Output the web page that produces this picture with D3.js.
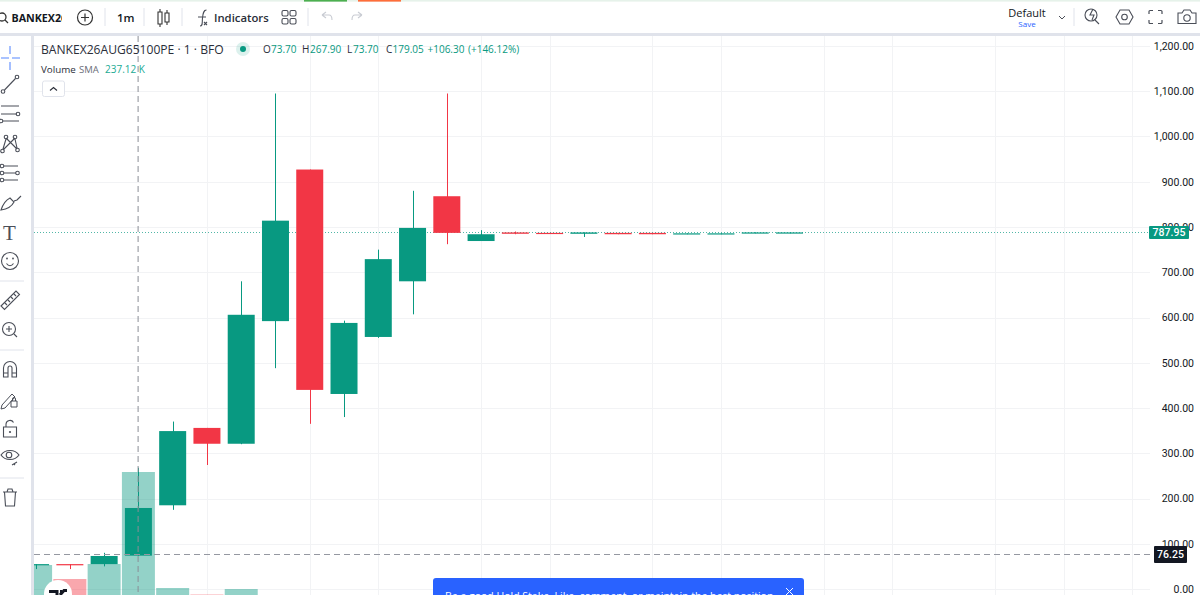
<!DOCTYPE html>
<html><head><meta charset="utf-8">
<script src="https://cdn.jsdelivr.net/npm/d3@7/dist/d3.min.js"></script>
<style>
html,body{margin:0;padding:0;background:#fff;overflow:hidden}
svg{display:block}
text{font-family:"Open Sans","Noto Sans",sans-serif}
</style></head><body>
<svg id="c" width="1200" height="595"></svg>
<script>
// ---- data ----
const title = "BANKEX26AUG65100PE · 1 · BFO";
const opens  = [54,55,55,73.7,185,356,321,592,927,431,557,680,868,769,788,787,785,787,787,784,784,786,786];
const highs  = [55,55,80,267.9,370,356,680,1095,927,593,750,880,1095,793,790,787,788,787,787,786,786,788,788];
const lows   = [44,44,50,73.7,175,274,320,488,365,380,555,607,762,769,784,785,778,784,784,784,784,786,786];
const closes = [55,54,73,179.05,349,321,606,814,440,588,729,798,787,784,785,785,788,784,784,786,786,788,788];
const volumes = [75,61,76,168,52,45.5,51,30,30,30,30,30,30,30,30,30,30,30,30,30,30,30,30];
const priceTicks = [0,100,200,300,400,500,600,700,800,900,1000,1100,1200];
const gridIndex = [5,8,10,13,15,18,20,23,25,28,30,32];
const lastPrice = 787.95, crossPrice = 76.25, crossIndex = 3;
const legendVals = [["O","73.70"],["H","267.90"],["L","73.70"],["C","179.05"]];

const UP="#089981", DOWN="#f23645", INK="#131722", ICON="#4a4e58", RULE="#e0e3eb", GRID="#f2f3f5";
const svg=d3.select("#c");
const x=d3.scaleLinear().domain([0,22]).range([35.6,789.5]);
const y=d3.scaleLinear().domain([0,1200]).range([589,46]);
const yv=d3.scaleLinear().domain([0,168]).range([640,472]);
const bw=27, vw=33;

const defs=svg.append("defs");
defs.append("clipPath").attr("id","plot").append("rect").attr("x",34).attr("y",36).attr("width",1116).attr("height",559);
const plot=svg.append("g").attr("clip-path","url(#plot)");

// grid
plot.append("g").selectAll("line").data(priceTicks).join("line")
 .attr("x1",34).attr("x2",1150).attr("y1",d=>Math.round(y(d))+.5).attr("y2",d=>Math.round(y(d))+.5).attr("stroke",GRID);
plot.append("g").selectAll("line").data(gridIndex).join("line")
 .attr("x1",d=>Math.round(x(d))+.5).attr("x2",d=>Math.round(x(d))+.5).attr("y1",36).attr("y2",595).attr("stroke",GRID);

// volume
plot.append("g").selectAll("rect").data(volumes).join("rect")
 .attr("x",(d,i)=>x(i)-vw/2).attr("width",vw)
 .attr("y",d=>yv(d)).attr("height",d=>Math.max(0,yv(0)-yv(d)))
 .attr("fill",(d,i)=>closes[i]>=opens[i]?UP:DOWN).attr("opacity",.44);

// last price line
plot.append("line").attr("x1",34).attr("x2",1150).attr("y1",Math.floor(y(lastPrice))+.5).attr("y2",Math.floor(y(lastPrice))+.5)
 .attr("stroke",UP).attr("stroke-opacity",.7).attr("stroke-dasharray","1 2");

// candles
const n=d3.range(opens.length);
const g=plot.append("g");
g.selectAll("line").data(n).join("line")
 .attr("x1",i=>Math.round(x(i))+.5).attr("x2",i=>Math.round(x(i))+.5)
 .attr("y1",i=>y(highs[i])).attr("y2",i=>y(lows[i]))
 .attr("stroke",i=>closes[i]>=opens[i]?UP:DOWN).attr("stroke-width",1);
g.selectAll("rect").data(n).join("rect")
 .attr("x",i=>x(i)-bw/2).attr("width",bw)
 .attr("y",i=>y(Math.max(opens[i],closes[i])))
 .attr("height",i=>Math.max(1.2,Math.abs(y(opens[i])-y(closes[i]))))
 .attr("fill",i=>closes[i]>=opens[i]?UP:DOWN);

// crosshair
plot.append("line").attr("x1",x(crossIndex)-.3).attr("x2",x(crossIndex)-.3).attr("y1",36).attr("y2",595)
 .attr("stroke","#8a8d96").attr("stroke-dasharray","6 4");
plot.append("line").attr("x1",34).attr("x2",1150).attr("y1",Math.floor(y(crossPrice))+.5).attr("y2",Math.floor(y(crossPrice))+.5)
 .attr("stroke","#9598a1").attr("stroke-dasharray","6 4");

// price axis
const ax=svg.append("g").attr("transform","translate(1150,0)")
 .call(d3.axisRight(y).tickValues(priceTicks).tickSize(0).tickPadding(0).tickFormat(d3.format(",.2f")));
ax.select(".domain").remove();
ax.selectAll("text").attr("x",44).attr("text-anchor","end").attr("font-size",10.5).attr("fill",INK)
 .style("font-family","Roboto");

function tag(v,fill,w,x0,h){
 const yy=y(v);
 svg.append("rect").attr("x",x0).attr("y",yy-h/2).attr("width",w).attr("height",h).attr("rx",1).attr("fill",fill);
 svg.append("text").attr("x",x0+w/2).attr("y",yy+3.7).attr("text-anchor","middle").attr("font-size",10.5).attr("fill","#fff").style("font-family","Roboto").attr("font-weight",500).text(d3.format(".2f")(v));
}
tag(lastPrice,UP,40,1149,13);
tag(crossPrice,INK,33,1154,17);

// chrome: top bar and left bar
svg.append("rect").attr("width",1200).attr("height",33).attr("fill","#fff");
svg.append("rect").attr("width",1200).attr("height",1.6).attr("fill","#e6f2ea");
svg.append("rect").attr("x",304).attr("width",43).attr("height",1.6).attr("fill","#4caf50");
svg.append("rect").attr("x",358).attr("width",43).attr("height",1.6).attr("fill","#ff6d3a");
svg.append("rect").attr("y",33).attr("width",1200).attr("height",3).attr("fill",RULE);
svg.append("rect").attr("y",36).attr("width",31).attr("height",559).attr("fill","#fff");
svg.append("rect").attr("x",31).attr("y",36).attr("width",3).attr("height",559).attr("fill",RULE);

const T=(s,xx,yy,size,fill,opt={})=>svg.append("text").attr("x",xx).attr("y",yy).attr("font-size",size).attr("fill",fill)
 .attr("font-weight",opt.w||400).attr("text-anchor",opt.a||"start").text(s);
const P=(d,xx=0,yy=0,col=ICON,sw=1.1)=>svg.append("path").attr("d",d).attr("transform",`translate(${xx},${yy})`).attr("fill","none").attr("stroke",col).attr("stroke-width",sw);
const C=(cx,cy,r,col=ICON,sw=1.1)=>svg.append("circle").attr("cx",cx).attr("cy",cy).attr("r",r).attr("fill","none").attr("stroke",col).attr("stroke-width",sw);

// top toolbar
C(2,17,4,"#333",1.3); P("M5 20L8 23",0,0,"#333",1.3);
svg.append("clipPath").attr("id","sym").append("rect").attr("x",0).attr("y",5).attr("width",62).attr("height",25);
svg.append("g").attr("clip-path","url(#sym)").append("text").attr("x",11.5).attr("y",21.5).attr("font-size",10.7).attr("font-weight",700).attr("fill",INK).text("BANKEX26");
C(85,17.5,7.5,"#333",1.2); P("M85 13.5V21.5M81 17.5H89",0,0,"#333",1.2);
[105,144,182,308].forEach(v=>svg.append("line").attr("x1",v).attr("x2",v).attr("y1",8).attr("y2",26).attr("stroke",RULE));
T("1m",117,22,11.5,INK,{w:600});
P("M158 12h4v12h-4zM160 9v3M160 24v3M165 13h4v9h-4zM167 10v3M167 22v3",0,0,"#333",1.1);
P("M200 26c3 0 2-3 2.5-8s1-8 4-8M198 17h8M204 22l3 3M207 22l-3 3",0,0,ICON,1.1);
T("Indicators",214,22,11.3,"#2a2e39",{w:600});
[[282,10.5],[290,10.5],[282,18.5],[290,18.5]].forEach(p=>svg.append("rect").attr("x",p[0]).attr("y",p[1]).attr("width",6).attr("height",5.5).attr("rx",1.5).attr("fill","none").attr("stroke",ICON).attr("stroke-width",1.1));
P("M322 15l4-3M322 15l4 3M322 15h7c2 0 3 2 3 5",0,0,"#c9ccd3",1.1);
P("M362 15l-4-3M362 15l-4 3M362 15h-7c-2 0-3 2-3 5",0,0,"#c9ccd3",1.1);

T("Default",1027,17,11,INK,{a:"middle",w:500});
T("Save",1027,27,8,"#2962ff",{a:"middle"});
P("M1059 16l3 3 3-3",0,0,ICON,1);
svg.append("line").attr("x1",1074).attr("x2",1074).attr("y1",8).attr("y2",26).attr("stroke",RULE);
C(1091,15,6,ICON,1.1); P("M1095 20l4 4M1093 9l-3 6h4l-2 5",0,0,ICON,1.1);
P("M1116 17l4-7h9l4 7-4 7h-9z",0,0,ICON,1.1); C(1124.5,17,2.8,ICON,1.1);
P("M1149 14v-2.5a1 1 0 0 1 1-1h3M1158 10.500h3a1 1 0 0 1 1 1V14M1162 20v2.500a1 1 0 0 1-1 1h-3M1153 23.500h-3a1 1 0 0 1-1-1V20",0,0,ICON,1.2);
P("M1178 13h4l2-3h6l2 3h4v10.500h-18z",0,0,ICON,1.1); C(1187,18,3.2,ICON,1.1);

// legend
T(title,41,54,12.1,"#2a2e39");
svg.append("circle").attr("cx",243).attr("cy",49).attr("r",7).attr("fill",UP).attr("opacity",.14);
svg.append("circle").attr("cx",243).attr("cy",49).attr("r",3).attr("fill",UP);
const lx=[263,302,347,386];
const lo=[8,8,6,6.5];
legendVals.forEach((d,i)=>{
 T(d[0],lx[i],53,10,"#2a2e39");
 svg.append("text").attr("x",lx[i]+lo[i]).attr("y",53).attr("font-size",10).attr("fill",UP).text(d[1]);
});
T("+106.30",427.5,53,10,UP);
T("(+146.12%)",468,53,10,UP);
T("Volume",41,73,9.8,"#2a2e39");
T("SMA",79,73,9.5,"#6a6d78");
T("237.12 K",105,73,10,"#22ab94");
svg.append("rect").attr("x",42.5).attr("y",81).attr("width",22).attr("height",15.5).attr("rx",2).attr("fill","#fff").attr("stroke",RULE);
P("M50 90.500l3.500-3 3.500 3",0,0,"#2a2e39",1.1);

// left toolbar
P("M10 46v8M10 62v8M1 58h8M12 58h8",0,0,"#8fb0ff",1.6);
C(3,91.5,1.8);C(17,77,1.8);P("M4.500 90L15.500 78.500");
P("M1 106h18M1 114h16M3 121h16");C(18,114,1.8);C(1,121,1.8);
C(6,137,1.8);C(15,137,1.8);C(2.500,151,1.8);C(17.500,150,1.8);
P("M6 139L3 149M15 139l2 9M6 138L17 149M15 138L3 150");
P("M4 166h14M4 173h12M4 180h14");C(2,166,1.8);C(2,173,1.8);C(2,180,1.8);C(17.500,173,1.8);
P("M1 210c2-6 5-10 9-12l4 4c-2 4-6 7-13 8zM14 201l3-1 4-4");
svg.append("text").attr("x",3).attr("y",240).attr("font-size",21).attr("fill",ICON).style("font-family","Liberation Serif").text("T");
C(10,261,8.500);svg.append("circle").attr("cx",7).attr("cy",258.500).attr("r",.9).attr("fill",ICON);svg.append("circle").attr("cx",13).attr("cy",258.500).attr("r",.9).attr("fill",ICON);P("M6.500 263.500c2 3 5 3 7 0");
svg.append("line").attr("x1",0).attr("x2",24).attr("y1",281).attr("y2",281).attr("stroke",RULE);
P("M1 306L16 291l3.500 3.500L4.500 309.500zM5 303l2 2M8 300l2 2M11 297l2 2M14 294l2 2");
C(9,329,6.500);P("M9 326v6M6 329h6M14 334l3 3");
svg.append("line").attr("x1",0).attr("x2",24).attr("y1",350).attr("y2",350).attr("stroke",RULE);
P("M3.500 377v-9a6 6 0 0 1 13 0v9h-4.500v-9a2 2 0 0 0-4 0v9zM3.500 373h4.500M12 373h4.500");
P("M2 405l10-11 3 3-10 11-4 1zM11 401h6v6h-6zM12.500 401v-2a1.500 1.500 0 0 1 3 0v2",0,0,ICON,1);
P("M3.500 427h13v10h-13zM6 427v-3a4 4 0 0 1 7.500-1.500");svg.append("circle").attr("cx",10).attr("cy",432).attr("r",1.1).attr("fill",ICON);
P("M1 455c4-6 14-6 18 0c-4 6-14 6-18 0z");C(9,455,2.800);P("M12 465l5-3M14 464l1 1");
svg.append("line").attr("x1",0).attr("x2",24).attr("y1",478).attr("y2",478).attr("stroke",RULE);
P("M3 492h14M7 492l1-3h4l1 3M4.500 492l1 14h9l1-14");

// TradingView badge
svg.append("circle").attr("cx",58).attr("cy",594).attr("r",14).attr("fill","#fff");
P("M49 591.500h8v5M60 591.500h2",0,0,"#131722",3);
P("M60 595l4-4.500h3",0,0,"#131722",3);

// notification
svg.append("path").attr("d","M433 595v-14a3 3 0 0 1 3-3h365a3 3 0 0 1 3 3v14z").attr("fill","#2962ff");
T("Be a good Hold Stake. Like, comment, or maintain the best position",445,600,10.5,"#fff");
P("M786 588l7 7M793 588l-7 7",0,0,"#fff",1);
</script>
</body></html>
